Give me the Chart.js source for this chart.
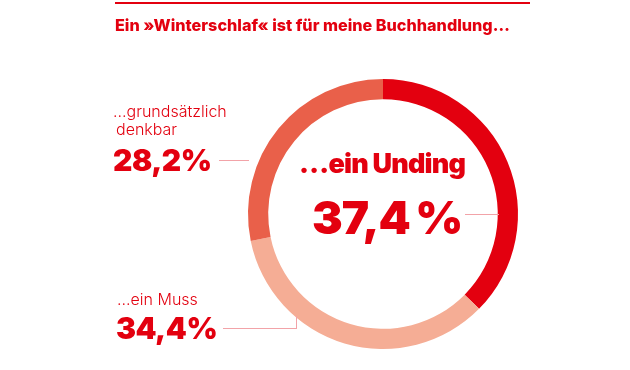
<!DOCTYPE html>
<html><head><meta charset="utf-8">
<script src="https://cdn.jsdelivr.net/npm/chart.js@4"></script>
<style>
html,body{margin:0;padding:0;background:#fff;}
#wrap{position:relative;width:630px;height:370px;overflow:hidden;font-family:Inter,Roboto,"Liberation Sans",sans-serif;color:#e3000f;}
canvas{position:absolute;left:0;top:0;}
.t{position:absolute;white-space:nowrap;line-height:1;}
.rule{position:absolute;background:#e3000f;}
.ln{position:absolute;background:#f2a3a8;}
</style></head>
<body>
<div id="wrap">
<canvas id="c" width="630" height="370"></canvas>
<div class="rule" style="left:115px;top:2px;width:415px;height:2px;"></div>
<div class="t" id="title" style="left:115px;top:17px;font-size:16.2px;font-weight:800;letter-spacing:0px;"></div>
<div class="t" id="l2a" style="left:113px;top:103px;font-size:16px;font-weight:300;"></div>
<div class="t" id="l2b" style="left:116px;top:121px;font-size:16px;font-weight:300;"></div>
<div class="t" id="v2" style="left:113px;top:145px;font-size:30px;font-weight:900;letter-spacing:-0.5px;"></div>
<div class="t" id="l1a" style="left:117px;top:291px;font-size:16px;font-weight:300;"></div>
<div class="t" id="v1" style="left:116px;top:313px;font-size:30px;font-weight:900;letter-spacing:-0.5px;"></div>
<div class="t" id="l0" style="left:299px;top:150px;font-size:27px;font-weight:900;letter-spacing:-0.8px;"></div>
<div class="t" id="v0" style="left:312px;top:194px;font-size:46px;font-weight:900;letter-spacing:-1px;"></div>
<div class="ln" style="left:219px;top:160px;width:30px;height:1px;"></div>
<div class="ln" style="left:223px;top:328px;width:74px;height:1px;"></div>
<div class="ln" style="left:296px;top:316px;width:1px;height:13px;"></div>
<div class="ln" style="left:465px;top:214px;width:34px;height:1px;"></div>
</div>
<script>
const title = "Ein »Winterschlaf« ist für meine Buchhandlung…";
const categories = ["…ein Unding", "…ein Muss", "…grundsätzlich denkbar"];
const values = [37.4, 34.4, 28.2];
const valueLabels = ["37,4\u2009%", "34,4%", "28,2%"];
const colors = ["#e3000f", "#f5ad95", "#e9604a"];

document.getElementById('title').textContent = title;
document.getElementById('l0').textContent = categories[0];
document.getElementById('v0').textContent = valueLabels[0];
document.getElementById('l1a').textContent = categories[1];
document.getElementById('v1').textContent = valueLabels[1];
document.getElementById('l2a').textContent = "…grundsätzlich";
document.getElementById('l2b').textContent = "denkbar";
document.getElementById('v2').textContent = valueLabels[2];

new Chart(document.getElementById('c'), {
  type: 'doughnut',
  data: {
    labels: categories,
    datasets: [{
      data: values,
      backgroundColor: colors,
      borderWidth: 0,
      hoverOffset: 0
    }]
  },
  options: {
    responsive: false,
    animation: false,
    cutout: '85%',
    rotation: 0,
    layout: { padding: { left: 248, right: 112, top: 79, bottom: 21 } },
    plugins: { legend: { display: false }, tooltip: { enabled: false } }
  }
});
</script>
</body></html>
